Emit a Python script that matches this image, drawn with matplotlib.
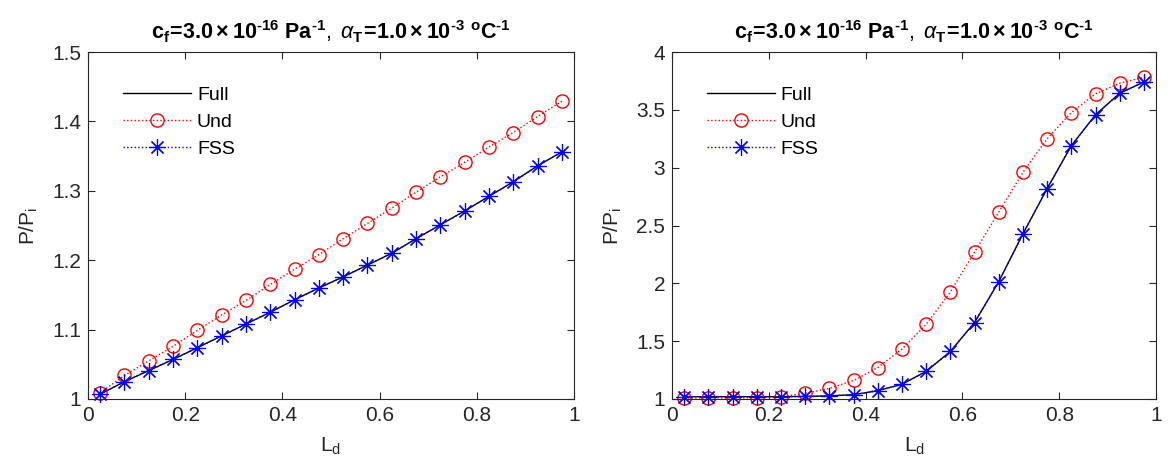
import numpy as np
import matplotlib
matplotlib.use("Agg")
import matplotlib.pyplot as plt

plt.rcParams["font.family"] = ["Liberation Sans", "DejaVu Sans"]
plt.rcParams["mathtext.fontset"] = "custom"
plt.rcParams["mathtext.rm"] = "Liberation Sans"
plt.rcParams["mathtext.bf"] = "Liberation Sans:bold"
plt.rcParams["mathtext.it"] = "Liberation Sans:italic"

# ── Data ──────────────────────────────────────────────────────────────────────
ld = [0.025, 0.075, 0.125, 0.175, 0.225, 0.275, 0.325, 0.375, 0.425, 0.475,
      0.525, 0.575, 0.625, 0.675, 0.725, 0.775, 0.825, 0.875, 0.925, 0.975]

# left panel
left_full = [1.007, 1.025, 1.041, 1.057, 1.074, 1.091, 1.108, 1.125, 1.143, 1.160,
             1.176, 1.193, 1.210, 1.231, 1.251, 1.271, 1.292, 1.313, 1.336, 1.356]
left_und = [1.009, 1.034, 1.055, 1.076, 1.099, 1.121, 1.142, 1.165, 1.187, 1.208,
            1.231, 1.253, 1.275, 1.298, 1.320, 1.341, 1.363, 1.384, 1.407, 1.429]
left_fss = [1.007, 1.025, 1.041, 1.057, 1.074, 1.091, 1.108, 1.125, 1.143, 1.160,
            1.176, 1.193, 1.210, 1.231, 1.251, 1.271, 1.292, 1.313, 1.336, 1.356]

# right panel
right_full = [1.02, 1.02, 1.02, 1.02, 1.02, 1.022, 1.027, 1.037, 1.072, 1.127,
              1.239, 1.411, 1.661, 2.014, 2.428, 2.819, 3.190, 3.457, 3.644, 3.741]
right_und = [1.01, 1.01, 1.01, 1.01, 1.02, 1.049, 1.092, 1.160, 1.272, 1.431,
             1.645, 1.925, 2.270, 2.615, 2.960, 3.250, 3.477, 3.638, 3.730, 3.782]
right_fss = [1.02, 1.02, 1.02, 1.02, 1.02, 1.022, 1.027, 1.037, 1.072, 1.127,
             1.239, 1.411, 1.661, 2.014, 2.428, 2.819, 3.190, 3.457, 3.644, 3.741]

HY = "\u2010"   # plain hyphen, not a math minus
TITLE = (r"$\mathbf{c_f\!=\!3.0\times10^{" + HY + r"16}\ Pa^{" + HY + r"1}},\ \alpha_{\mathbf{T}}"
         r"\mathbf{\!=\!1.0\times10^{" + HY + r"3}\ {}^{o}C^{" + HY + r"1}}$")

fig = plt.figure(figsize=(11.69, 4.75), dpi=100)
ax1 = fig.add_axes([0.0753, 0.16, 0.4157, 0.7305])
ax2 = fig.add_axes([0.5749, 0.16, 0.4140, 0.7305])

AX_COL = "#262626"


def draw(ax, full, und, fss, ylim, yticks, yticklabels):
    ax.plot(ld, full, color="black", linewidth=1.0, label="Full")
    ax.plot(ld, und, color="red", linestyle=":", linewidth=1.0, marker="o",
            markersize=9.5, markerfacecolor="none", markeredgewidth=1.0,
            label="Und", clip_on=False)
    ax.plot(ld, fss, color="blue", linestyle=":", linewidth=1.0, marker=(8, 2, 0),
            markersize=12, markeredgewidth=0.85, label="FSS", clip_on=False)
    ax.set_xlim(0, 1)
    ax.set_ylim(*ylim)
    ax.set_xticks([0, 0.2, 0.4, 0.6, 0.8, 1])
    ax.set_xticklabels(["0", "0.2", "0.4", "0.6", "0.8", "1"])
    ax.set_yticks(yticks)
    ax.set_yticklabels(yticklabels)
    ax.tick_params(direction="in", top=True, right=True, length=5, width=0.8,
                   labelsize=15, colors=AX_COL, pad=5)
    for sp in ax.spines.values():
        sp.set_color(AX_COL)
        sp.set_linewidth(0.8)
    ax.set_xlabel(r"L$_\mathregular{d}$", fontsize=15, color=AX_COL, labelpad=8)
    ax.set_ylabel(r"P/P$_\mathregular{i}$", fontsize=15, color=AX_COL, labelpad=9)
    ax.set_title(TITLE, fontsize=15.5, pad=9)
    ax.legend(loc="upper left", bbox_to_anchor=(0.056, 0.923), frameon=False,
              fontsize=14, handlelength=3.5, handletextpad=0.3,
              labelspacing=0.48, borderaxespad=0)


draw(ax1, left_full, left_und, left_fss, (1, 1.5),
     [1, 1.1, 1.2, 1.3, 1.4, 1.5], ["1", "1.1", "1.2", "1.3", "1.4", "1.5"])
draw(ax2, right_full, right_und, right_fss, (1, 4),
     [1, 1.5, 2, 2.5, 3, 3.5, 4], ["1", "1.5", "2", "2.5", "3", "3.5", "4"])

fig.savefig("out.png", dpi=100)
